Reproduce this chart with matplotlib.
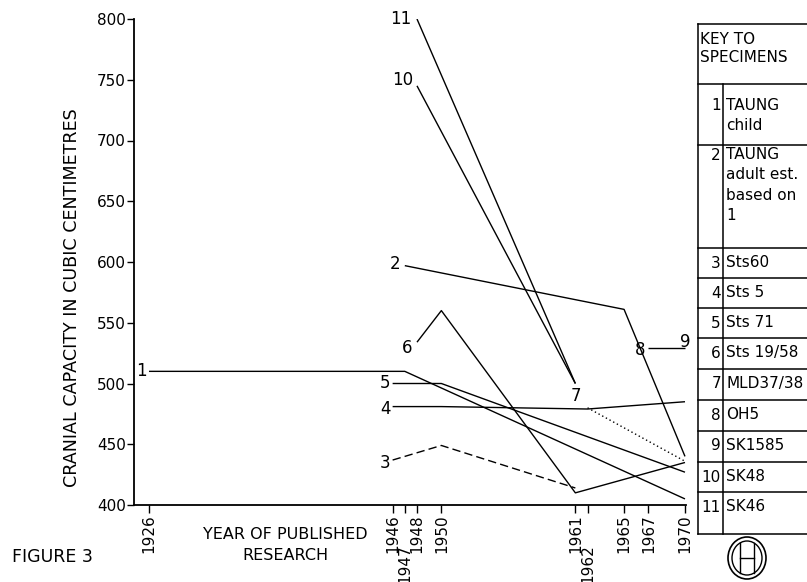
import matplotlib
matplotlib.use("Agg")
import matplotlib.pyplot as plt
from matplotlib.patches import Ellipse

plt.rcParams['font.family'] = ['DejaVu Sans']

# ---------------- data ----------------
tick_years = [1926, 1946, 1947, 1948, 1950, 1961, 1962, 1965, 1967, 1970]
tick_labels = ["1926", "1946", "1947", "1948", "1950", "1961", "1962", "1965", "1967", "1970"]
staggered_labels = ["1947", "1962"]
y_ticks = [400, 450, 500, 550, 600, 650, 700, 750, 800]
y_tick_labels = ["400", "450", "500", "550", "600", "650", "700", "750", "800"]

s1_years = [1926, 1947, 1970]
s1_cc = [510, 510, 405]
s2_years = [1947, 1965, 1970]
s2_cc = [597, 561, 440]
s3_years = [1946, 1950, 1961]
s3_cc = [437, 449, 414]
s4_years = [1946, 1950, 1962, 1970]
s4_cc = [481, 481, 479, 485]
s5_years = [1946, 1950, 1970]
s5_cc = [500, 500, 427]
s6_years = [1948, 1950, 1961, 1970]
s6_cc = [534, 560, 410, 435]
s7_years = [1962, 1970]
s7_cc = [480, 436]
s89_years = [1967, 1970]
s89_cc = [529, 529]
s10_years = [1948, 1961]
s10_cc = [745, 500]
s11_years = [1948, 1961]
s11_cc = [800, 500]

key_numbers = ["1", "2", "3", "4", "5", "6", "7", "8", "9", "10", "11"]
key_names = ["TAUNG\nchild", "TAUNG\nadult est.\nbased on\n1", "Sts60", "Sts 5", "Sts 71",
             "Sts 19/58", "MLD37/38", "OH5", "SK1585", "SK48", "SK46"]

y_label = "CRANIAL CAPACITY IN CUBIC CENTIMETRES"
x_label = "YEAR OF PUBLISHED\nRESEARCH"
figure_label = "FIGURE 3"
key_title = "KEY TO\nSPECIMENS"

# ---------------- figure ----------------
W, H = 807, 582
fig = plt.figure(figsize=(W / 100, H / 100), dpi=100)
fig.patch.set_facecolor("white")

ax = fig.add_axes([134 / W, (H - 505) / H, 551.6 / W, (505 - 19) / H])
ax.set_xlim(1924.77, 1970.05)
ax.set_ylim(400, 800)
for s in ["top", "right"]:
    ax.spines[s].set_visible(False)
for s in ["left", "bottom"]:
    ax.spines[s].set_linewidth(1.3)
    ax.spines[s].set_color("black")

ax.set_xticks(tick_years)
ax.set_xticklabels(tick_labels, rotation=90, fontsize=11)
ax.set_yticks(y_ticks)
ax.set_yticklabels(y_tick_labels, fontsize=11)
ax.tick_params(axis="x", direction="out", length=6, width=1, pad=1)
ax.tick_params(axis="y", direction="out", length=5, width=1, pad=1)
for t, lab in zip(ax.xaxis.get_major_ticks(), tick_labels):
    if lab in staggered_labels:
        t.set_pad(22)

lw = 1.0
series = [
    (s1_years, s1_cc, "-"),
    (s2_years, s2_cc, "-"),
    (s3_years, s3_cc, (0, (6, 3))),
    (s4_years, s4_cc, "-"),
    (s5_years, s5_cc, "-"),
    (s6_years, s6_cc, "-"),
    (s7_years, s7_cc, (0, (1, 2))),
    (s89_years, s89_cc, "-"),
    (s10_years, s10_cc, "-"),
    (s11_years, s11_cc, "-"),
]
for xs, ys, ls in series:
    ax.plot(xs, ys, color="black", lw=lw, linestyle=ls, solid_capstyle="butt")

# specimen number labels: (text, x, y, dx pt, dy pt, ha)
num_labels = [
    ("1", s1_years[0], s1_cc[0], -1.5, 0, "right"),
    ("2", s2_years[0], s2_cc[0], -3, 1.5, "right"),
    ("3", s3_years[0], s3_cc[0], -2, -2, "right"),
    ("4", s4_years[0], s4_cc[0], -1.5, -2, "right"),
    ("5", s5_years[0], s5_cc[0], -2, 0, "right"),
    ("6", s6_years[0], s6_cc[0], -3, -4.3, "right"),
    ("7", s7_years[0], s7_cc[0], -8.6, 8.6, "center"),
    ("8", s89_years[0], s89_cc[0], -5.8, -1.5, "center"),
    ("9", s89_years[1], s89_cc[1], 0, 4.3, "center"),
    ("10", s10_years[0], s10_cc[0], -3, 4.3, "right"),
    ("11", s11_years[0], s11_cc[0], -4.3, 0, "right"),
]
for txt, x, y, dx, dy, ha in num_labels:
    ax.annotate(txt, xy=(x, y), xytext=(dx, dy), textcoords="offset points",
                ha=ha, va="center", fontsize=12)

# ---------------- overlay in pixel coordinates ----------------
ov = fig.add_axes([0, 0, 1, 1])
ov.set_xlim(0, W)
ov.set_ylim(H, 0)
ov.axis("off")
ov.patch.set_visible(False)

ov.text(72, 298, y_label, rotation=90, ha="center", va="center", fontsize=12.6)
ov.text(285, 545, x_label, ha="center", va="center", fontsize=11.5, linespacing=1.5)
ov.text(12, 557, figure_label, ha="left", va="center", fontsize=12.5)

# key table
tl, tc, tr = 698, 723, W + 5
row_edges = [24, 84, 145, 248, 278, 308, 338, 369, 400, 431, 462, 492, 534]
kw = dict(color="black", lw=1.1)
ov.plot([tl, tl], [row_edges[0], row_edges[-1]], **kw)
ov.plot([tc, tc], [row_edges[1], row_edges[-1]], **kw)
for y in row_edges:
    ov.plot([tl, tr], [y, y], **kw)
ov.text(tl + 2, row_edges[0] + 8, key_title, ha="left", va="top", fontsize=11, linespacing=1.25)
for i, (n, name) in enumerate(zip(key_numbers, key_names)):
    top = row_edges[i + 1]
    y0 = top + 15 if i >= 2 else top + 22 if i == 0 else top + 10
    ov.text(tc - 2, y0, n, ha="right", va="center", fontsize=11)
    ov.text(tc + 3, y0 - 8, name, ha="left", va="top", fontsize=11, linespacing=1.45)

# logo
ov.add_patch(Ellipse((747, 558), 38, 42, fill=False, lw=1.2, color="black"))
ov.add_patch(Ellipse((747, 558), 30, 34, fill=False, lw=1.0, color="black"))
ov.plot([740, 740], [543, 573], color="black", lw=1.0)
ov.plot([754, 754], [543, 573], color="black", lw=1.0)
ov.plot([740, 754], [558, 558], color="black", lw=1.0)

fig.savefig("out.png", dpi=100, facecolor="white")
